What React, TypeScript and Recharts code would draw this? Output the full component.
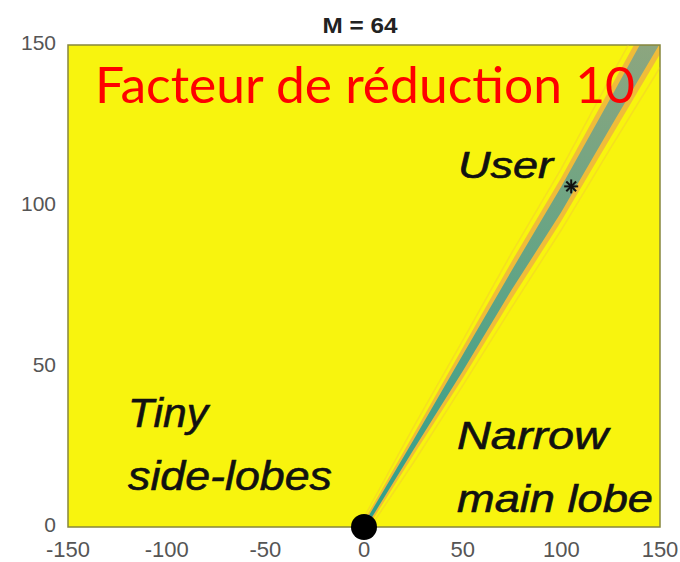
import React from 'react';
import {
  ComposedChart,
  Area,
  Line,
  Scatter,
  XAxis,
  YAxis,
  ReferenceArea,
} from 'recharts';

// beam sampled along x (vertical extent of the main lobe in data units)
const beamX = [0, 25, 50, 75, 100, 125, 150];
const coreLow = [-1, 24, 48.5, 74, 98, 124.5, 150.5];
const coreHigh = [1, 27, 53.5, 80, 106, 133.5, 161.5];
const outerLow = [-2, 22.3, 46.2, 71.2, 95.2, 121.2, 147.2];
const outerHigh = [2, 28.7, 55.8, 82.8, 108.8, 136.8, 164.8];
const sideLobeA = [-3, 20, 44, 68.5, 92.5, 118, 143];
const sideLobeB = [3, 31, 58, 85.5, 111.5, 140, 168];

const xTicks = [-150, -100, -50, 0, 50, 100, 150];
const yTicks = [0, 50, 100, 150];

const basePoint = [{ x: 0, y: 0 }];
const userPoint = [{ x: 105, y: 106 }];

const beamData = beamX.map((x, i) => ({
  x,
  outer: [outerLow[i], outerHigh[i]],
  core: [coreLow[i], coreHigh[i]],
  sideA: sideLobeA[i],
  sideB: sideLobeB[i],
}));

const YELLOW = '#f8f40e';
const FONT = '"Liberation Sans", Arial, sans-serif';

const Asterisk = (props: any) => {
  const { cx, cy } = props;
  const r = 7;
  return (
    <g stroke="#111" strokeWidth={2}>
      <line x1={cx - r} y1={cy} x2={cx + r} y2={cy} />
      <line x1={cx} y1={cy - r} x2={cx} y2={cy + r} />
      <line x1={cx - r * 0.7} y1={cy - r * 0.7} x2={cx + r * 0.7} y2={cy + r * 0.7} />
      <line x1={cx - r * 0.7} y1={cy + r * 0.7} x2={cx + r * 0.7} y2={cy - r * 0.7} />
    </g>
  );
};

const BigDot = (props: any) => <circle cx={props.cx} cy={props.cy} r={13} fill="#000" />;

// text overlay drawn on top of the chart
const Annotations = () => (
  <svg
    width={680}
    height={562}
    style={{ position: 'absolute', left: 0, top: 0, pointerEvents: 'none' }}
  >
    <text
      x={360}
      y={33}
      textAnchor="middle"
      fontFamily={FONT}
      fontWeight="bold"
      fontSize={22}
      fill="#222"
      textLength={75}
      lengthAdjust="spacingAndGlyphs"
    >
      M = 64
    </text>
    <text
      x={95}
      y={103}
      fontFamily="Lato, 'Open Sans', sans-serif"
      fontSize={50}
      fill="#ff0000"
      textLength={540}
      lengthAdjust="spacingAndGlyphs"
    >
      Facteur de réduction 10
    </text>
    <g fontFamily={FONT} fontStyle="italic" fill="#111" stroke="#111" strokeWidth={0.6}>
      <text x={458} y={178} fontSize={36} textLength={95} lengthAdjust="spacingAndGlyphs">User</text>
      <text x={128} y={427} fontSize={41} textLength={80} lengthAdjust="spacingAndGlyphs">Tiny</text>
      <text x={128} y={490} fontSize={41} textLength={204} lengthAdjust="spacingAndGlyphs">side-lobes</text>
      <text x={457} y={449} fontSize={38} textLength={151} lengthAdjust="spacingAndGlyphs">Narrow</text>
      <text x={457} y={512} fontSize={38} textLength={196} lengthAdjust="spacingAndGlyphs">main lobe</text>
    </g>
  </svg>
);

export default function App() {
  return (
    <div style={{ position: 'absolute', left: 0, top: 0, width: 680, height: 562, background: '#fff' }}>
      <ComposedChart
        width={680}
        height={562}
        data={beamData}
        margin={{ top: 45, right: 20, bottom: 0, left: 0 }}
      >
        <defs>
          <linearGradient id="coreFill" x1="0" y1="1" x2="0" y2="0">
            <stop offset="0%" stopColor="#2c9f8c" />
            <stop offset="45%" stopColor="#5ea486" />
            <stop offset="100%" stopColor="#93a67e" />
          </linearGradient>
        </defs>
        <XAxis
          xAxisId="main"
          dataKey="x"
          type="number"
          domain={[-150, 150]}
          ticks={xTicks}
          allowDataOverflow
          tickLine={false}
          axisLine={false}
          tickMargin={8}
          height={35}
          tick={{ fill: '#555', fontSize: 22, fontFamily: FONT }}
        />
        <YAxis
          yAxisId="main"
          type="number"
          domain={[0, 150]}
          ticks={yTicks}
          allowDataOverflow
          tickLine={false}
          axisLine={false}
          tickMargin={6}
          width={68}
          tick={{ fill: '#555', fontSize: 21, fontFamily: FONT, dy: -2 }}
        />
        <XAxis xAxisId="marks" type="number" dataKey="x" domain={[-150, 150]} hide />
        <YAxis yAxisId="marks" type="number" dataKey="y" domain={[0, 150]} hide />
        <ReferenceArea
          xAxisId="main"
          yAxisId="main"
          x1={-150}
          x2={150}
          y1={0}
          y2={150}
          fill={YELLOW}
          fillOpacity={1}
          stroke="none"
        />
        <Line
          xAxisId="main"
          yAxisId="main"
          dataKey="sideA"
          stroke="#eeb24a"
          strokeOpacity={0.3}
          strokeWidth={1.5}
          dot={false}
          isAnimationActive={false}
        />
        <Line
          xAxisId="main"
          yAxisId="main"
          dataKey="sideB"
          stroke="#eeb24a"
          strokeOpacity={0.3}
          strokeWidth={1.5}
          dot={false}
          isAnimationActive={false}
        />
        <Area
          xAxisId="main"
          yAxisId="main"
          dataKey="outer"
          type="linear"
          stroke="none"
          fill="#eeb63e"
          fillOpacity={0.9}
          isAnimationActive={false}
        />
        <Area
          xAxisId="main"
          yAxisId="main"
          dataKey="core"
          type="linear"
          stroke="none"
          fill="url(#coreFill)"
          fillOpacity={1}
          isAnimationActive={false}
        />
        <ReferenceArea
          xAxisId="main"
          yAxisId="main"
          x1={-150}
          x2={150}
          y1={0}
          y2={150}
          fill="none"
          stroke="#86863c"
          strokeWidth={1.5}
        />
        <Scatter
          xAxisId="marks"
          yAxisId="marks"
          data={userPoint}
          dataKey="y"
          shape={<Asterisk />}
          isAnimationActive={false}
        />
        <Scatter
          xAxisId="marks"
          yAxisId="marks"
          data={basePoint}
          dataKey="y"
          shape={<BigDot />}
          isAnimationActive={false}
        />
      </ComposedChart>
      <Annotations />
    </div>
  );
}
